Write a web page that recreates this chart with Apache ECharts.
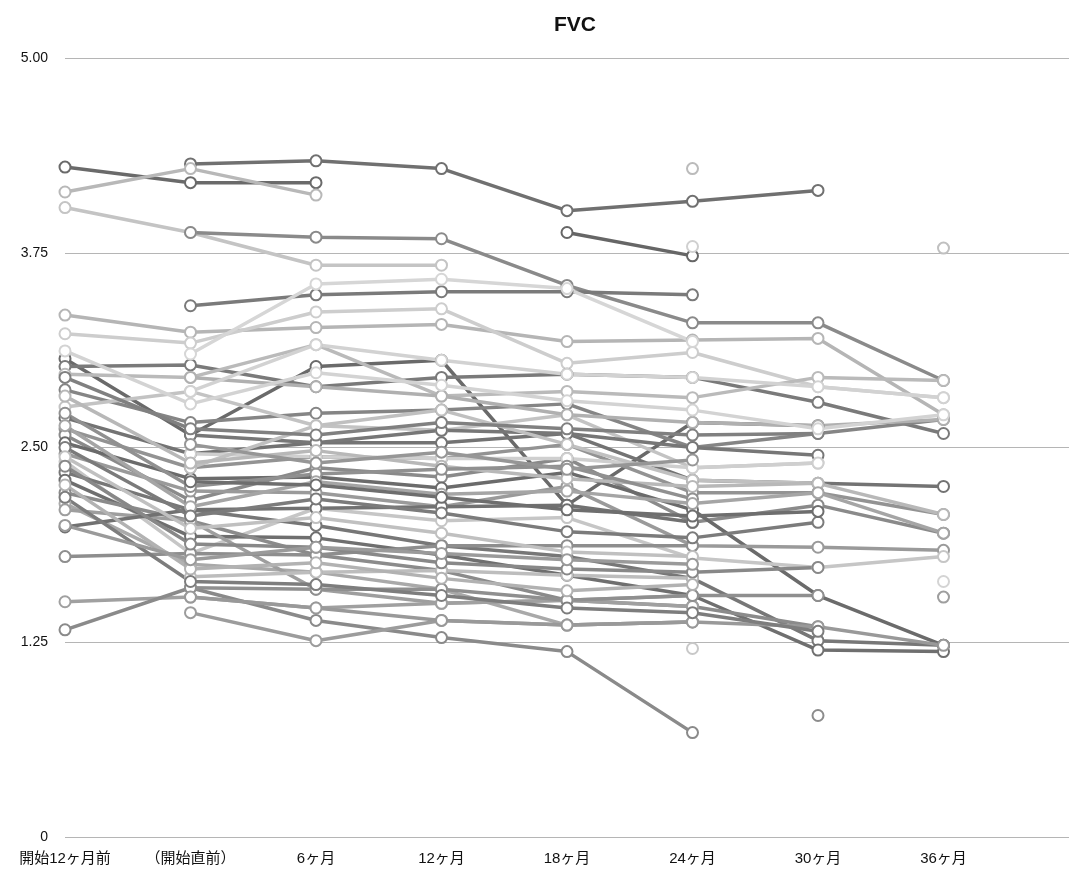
<!DOCTYPE html>
<html><head><meta charset="utf-8">
<script src="https://cdn.jsdelivr.net/npm/echarts@6/dist/echarts.min.js"></script>
<style>html,body{margin:0;padding:0;background:#fff}#c{width:1072px;height:873px}</style>
</head><body><div id="c"></div>
<script>
const categories = ['開始12ヶ月前','（開始直前）','6ヶ月','12ヶ月','18ヶ月','24ヶ月','30ヶ月','36ヶ月',''];
const yTicks = [0, 1.25, 2.5, 3.75, 5];
const n = null;
const s01=[4.30,4.20,4.20,n,n,n,n,n];
const s02=[n,4.32,4.34,4.29,4.02,4.08,4.15,n];
const s03=[4.14,4.29,4.12,n,n,n,n,n];
const s04=[4.04,3.88,3.67,3.67,n,n,n,n];
const s05=[n,3.88,3.85,3.84,3.54,3.30,3.30,2.93];
const s06=[n,n,n,n,3.88,3.73,n,n];
const s07=[n,n,n,n,n,4.29,n,n];
const s08=[n,n,n,n,n,3.79,n,n];
const s09=[n,n,n,n,n,n,n,3.78];
const s10=[n,3.41,3.48,3.50,3.50,3.48,n,n];
const s11=[3.35,3.24,3.27,3.29,3.18,3.19,3.20,2.71];
const s12=[3.23,3.17,3.37,3.39,3.04,3.11,2.89,2.82];
const s13=[3.07,2.58,3.02,3.06,2.13,2.66,2.64,n];
const s14=[3.02,3.03,2.89,2.95,2.97,2.95,2.79,2.59];
const s15=[2.97,2.95,3.16,2.83,2.86,2.82,2.95,2.93];
const s16=[2.87,2.66,2.72,2.74,2.78,2.50,2.59,2.68];
const s17=[2.76,2.86,2.64,2.61,2.71,2.37,2.40,n];
const s18=[2.69,2.46,2.53,2.53,2.59,2.29,2.27,2.25];
const s19=[2.62,2.37,2.44,2.43,2.52,2.21,2.21,2.07];
const s20=[2.58,2.16,2.37,2.31,2.43,2.02,2.13,1.95];
const s21=[2.53,2.30,2.31,2.24,2.34,2.10,1.55,1.23];
const s22=[2.46,2.22,2.21,2.12,2.25,1.87,1.86,1.84];
const s23=[2.41,1.82,2.11,2.03,2.05,1.79,1.73,1.80];
const s24=[2.34,2.10,2.00,1.87,1.80,1.66,1.26,1.23];
const s25=[2.29,1.93,1.92,1.81,1.68,1.55,1.20,1.19];
const s26=[2.21,2.03,1.81,1.71,1.52,1.48,1.35,n];
const s27=[2.14,1.75,1.70,1.59,1.36,1.38,n,n];
const s28=[2.10,2.03,1.59,1.50,1.52,1.55,n,1.54];
const s29=[1.99,2.10,2.11,2.12,2.13,2.02,n,n];
const s30=[1.80,1.82,1.81,1.87,1.87,1.87,n,n];
const s31=[1.51,1.54,1.47,1.50,1.52,1.48,n,n];
const s32=[1.33,1.60,1.39,1.28,1.19,0.67,n,n];
const s33=[n,1.44,1.26,1.39,1.36,1.38,n,n];
const s34=[n,1.67,1.70,1.71,1.68,1.66,n,n];
const s35=[n,2.95,2.89,2.83,2.71,2.66,2.64,2.68];
const s36=[n,2.86,3.16,3.06,2.97,2.95,2.89,2.82];
const s37=[n,2.58,2.53,2.61,2.59,2.50,2.45,n];
const s38=[n,2.46,2.44,2.43,2.43,2.37,2.40,n];
const s39=[n,2.37,2.64,2.74,2.52,2.29,2.27,n];
const s40=[n,1.60,1.59,1.59,1.52,1.55,1.55,n];
const s41=[n,1.54,1.47,1.39,1.36,1.38,1.35,1.23];
const s42=[n,n,n,n,n,1.21,n,n];
const s43=[n,n,n,n,n,n,0.78,n];
const s44=[n,n,n,n,n,n,n,1.64];
const s45=[2.95,2.62,2.58,2.66,2.62,2.58,2.59,n];
const s46=[2.83,2.40,2.48,2.38,2.30,2.25,2.27,2.07];
const s47=[2.72,2.25,2.33,2.36,2.38,2.17,n,n];
const s48=[2.64,2.12,2.28,2.20,2.22,2.14,2.21,1.95];
const s49=[2.50,2.06,2.17,2.08,1.96,1.92,2.02,n];
const s50=[2.44,1.98,2.05,1.95,1.83,1.80,n,n];
const s51=[2.38,1.88,1.86,1.76,1.72,1.70,1.73,n];
const s52=[2.26,1.72,1.76,1.66,1.58,1.62,n,n];
const s53=[2.18,1.64,1.62,1.55,1.47,1.44,1.32,n];
const s54=[3.12,2.78,2.98,2.90,2.80,2.74,2.62,2.71];
const s55=[n,3.10,3.55,3.58,3.52,3.18,n,n];
const s56=[n,2.52,2.40,2.47,2.36,2.42,n,n];
const s57=[n,2.28,2.26,2.18,2.10,2.06,2.09,n];
const s58=[2.00,1.78,1.86,1.82,1.78,1.75,n,n];

const allSeries=[s01,s02,s03,s04,s05,s06,s07,s08,s09,s10,s11,s12,s13,s14,s15,s16,s17,s18,s19,s20,s21,s22,s23,s24,s25,s26,s27,s28,s29,s30,s31,s32,s33,s34,s35,s36,s37,s38,s39,s40,s41,s42,s43,s44,s45,s46,s47,s48,s49,s50,s51,s52,s53,s54,s55,s56,s57,s58];
const shades=['#6a6a6a','#707070','#b8b8b8','#c4c4c4','#8a8a8a','#666666','#bbbbbb','#d0d0d0','#c0c0c0','#7a7a7a',
'#b5b5b5','#cdcdcd','#6a6a6a','#7a7a7a','#bababa','#858585','#c3c3c3','#737373','#939393','#8a8a8a',
'#6b6b6b','#9a9a9a','#c6c6c6','#777777','#6f6f6f','#8b8b8b','#a9a9a9','#9e9e9e','#717171','#8e8e8e',
'#a0a0a0','#8a8a8a','#9c9c9c','#bdbdbd','#b0b0b0','#d2d2d2','#777777','#cfcfcf','#c0c0c0','#8f8f8f',
'#999999','#c8c8c8','#8c8c8c','#d4d4d4','#808080','#b8b8b8','#909090','#a5a5a5','#7b7b7b','#c0c0c0',
'#888888','#b2b2b2','#7d7d7d','#d3d3d3','#d6d6d6','#969696','#6e6e6e','#9a9a9a'];

const FONT='"Liberation Sans","Noto Sans CJK JP",sans-serif';
const chart=echarts.init(document.getElementById('c'),null,{renderer:'canvas'});
chart.setOption({
  backgroundColor:'#fff',
  animation:false,
  title:{text:'FVC',left:570,top:10,textAlign:'center',textStyle:{fontSize:21,fontWeight:'bold',color:'#111',fontFamily:FONT}},
  grid:{left:65,right:0,top:58,bottom:36,containLabel:false},
  xAxis:{type:'category',data:categories,boundaryGap:false,
    axisLine:{show:false},axisTick:{show:false},splitLine:{show:false},
    axisLabel:{color:'#111',fontSize:15,margin:14,fontFamily:FONT,interval:0}},
  yAxis:{type:'value',min:yTicks[0],max:yTicks[yTicks.length-1],interval:yTicks[1]-yTicks[0],
    axisLine:{show:false},axisTick:{show:false},
    splitLine:{lineStyle:{color:'#b5b5b5',width:1}},
    axisLabel:{color:'#111',fontSize:14,margin:17,fontFamily:FONT,
      formatter:v=>v===0?'0':v.toFixed(2)}},
  series:allSeries.map((d,i)=>({type:'line',data:d,symbol:'emptyCircle',symbolSize:11,showAllSymbol:true,
    connectNulls:false,lineStyle:{width:3.5,color:shades[i]},
    itemStyle:{color:shades[i],borderColor:shades[i],borderWidth:3},emphasis:{disabled:true}}))
});
</script></body></html>
